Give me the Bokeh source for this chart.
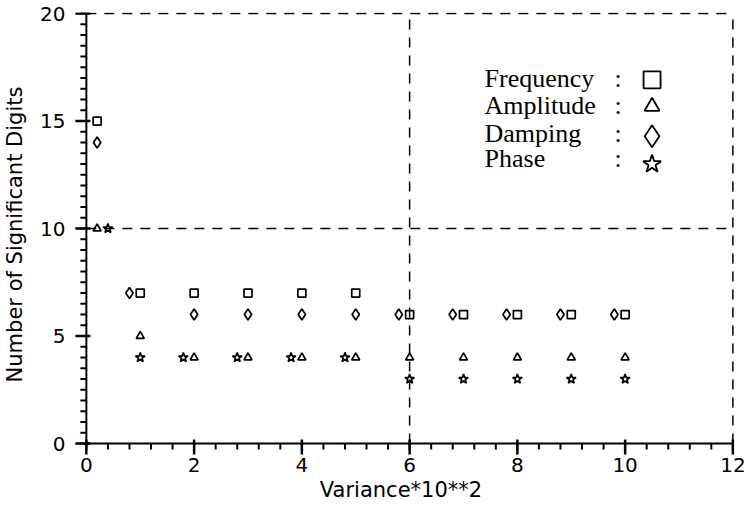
from bokeh.plotting import figure
from bokeh.models import FixedTicker
from bokeh.core.properties import value
from bokeh.embed import file_html
from bokeh.resources import INLINE

# Significant digits recovered for each parameter vs. noise variance (x 10^2)
freq_x = [0.2, 1, 2, 3, 4, 5, 6, 7, 8, 9, 10]
freq_y = [15, 7, 7, 7, 7, 7, 6, 6, 6, 6, 6]

amp_x = [0.2, 1, 2, 3, 4, 5, 6, 7, 8, 9, 10]
amp_y = [10, 5, 4, 4, 4, 4, 4, 4, 4, 4, 4]

damp_x = [0.2, 0.8, 2, 3, 4, 5, 5.8, 6.8, 7.8, 8.8, 9.8]
damp_y = [14, 7, 6, 6, 6, 6, 6, 6, 6, 6, 6]

phase_x = [0.4, 1, 1.8, 2.8, 3.8, 4.8, 6, 7, 8, 9, 10]
phase_y = [10, 4, 4, 4, 4, 4, 3, 3, 3, 3, 3]

legend_labels = ["Frequency", "Amplitude", "Damping", "Phase"]
markers = ["square", "triangle", "diamond", "star"]

x_major = [0, 2, 4, 6, 8, 10, 12]
y_major = [0, 5, 10, 15, 20]
x_minor = [round(i * 0.4, 2) for i in range(31)]
y_minor = [round(i * 0.5, 2) for i in range(41)]

X_MAX, Y_MAX = 12, 20

# the frame reaches a little past the axes so that the outward ticks
# can be drawn as ordinary segments
p = figure(width=746, height=510, x_range=(-0.35, 12.03), y_range=(-0.6, 20.05),
           output_backend="svg", toolbar_location=None,
           min_border_left=65, min_border_right=12,
           min_border_top=12, min_border_bottom=54)
p.outline_line_color = None
p.background_fill_color = None
p.border_fill_color = None
p.xgrid.visible = False
p.ygrid.visible = False

# Bokeh axes carry only the tick labels and titles
p.xaxis.ticker = FixedTicker(ticks=x_major)
p.yaxis.ticker = FixedTicker(ticks=y_major)
p.axis.axis_line_color = None
p.axis.major_tick_line_color = None
p.axis.minor_tick_line_color = None
p.axis.major_tick_out = 0
p.axis.major_tick_in = 0
p.axis.minor_tick_out = 0
p.axis.minor_tick_in = 0
p.axis.major_label_text_font = "DejaVu Sans"
p.axis.major_label_text_font_size = "20px"
p.axis.major_label_text_color = "black"
p.axis.axis_label_text_font = "DejaVu Sans"
p.axis.axis_label_text_font_size = "21px"
p.axis.axis_label_text_font_style = "normal"
p.axis.axis_label_text_color = "black"
p.xaxis.axis_label = "Variance*10**2"
p.yaxis.axis_label = "Number of Significant Digits"
p.xaxis.major_label_standoff = 1
p.yaxis.major_label_standoff = 2
p.xaxis.axis_label_standoff = 3
p.yaxis.axis_label_standoff = 10

# axis lines
p.segment(x0=[0, 0], y0=[0, 0], x1=[X_MAX, 0], y1=[0, Y_MAX],
          line_color="black", line_width=2)

# tick marks (lengths in data units: about 11 px out / 4 px in for major,
# 6 px out for minor), drawn as a single multi-line per family
xt_out, xt_in, xm_out = 0.51, 0.19, 0.28
yt_out, yt_in, ym_out = 0.204, 0.074, 0.111

p.multi_line(xs=[[t, t] for t in x_major],
             ys=[[-xt_out, xt_in] for _ in x_major],
             line_color="black", line_width=2.5)
p.multi_line(xs=[[t, t] for t in x_minor],
             ys=[[-xm_out, 0] for _ in x_minor],
             line_color="black", line_width=2)
p.multi_line(xs=[[-yt_out, yt_in] for _ in y_major],
             ys=[[t, t] for t in y_major],
             line_color="black", line_width=2.5)
p.multi_line(xs=[[-ym_out, 0] for _ in y_minor],
             ys=[[t, t] for t in y_minor],
             line_color="black", line_width=2)

# dashed reference lines, also closing the box at top and right
p.segment(x0=[6, X_MAX, 0, 0], y0=[0, 0, 10, Y_MAX],
          x1=[6, X_MAX, X_MAX, X_MAX], y1=[Y_MAX, Y_MAX, 10, Y_MAX],
          line_color="black", line_width=1.5, line_dash="10 8")

series = [(freq_x, freq_y, "square", 8),
          (amp_x, amp_y, "triangle", 8),
          (damp_x, damp_y, "diamond", 11),
          (phase_x, phase_y, "star", 10)]
for xs, ys, mk, sz in series:
    p.scatter(xs, ys, marker=mk, size=sz, fill_color=None,
              line_color="black", line_width=1.7)

# key in the upper right
text_x = 7.39
colon_x = 9.87
sym_x = 10.5
row_base = [16.3, 15.05, 13.77, 12.6]
row_mid = [16.92, 15.68, 14.3, 13.0]
sym_size = [17, 15, 22, 19]

p.text(x=[text_x] * 4, y=row_base, text=legend_labels,
       text_font=value("Liberation Serif"), text_font_size="26px",
       text_baseline="bottom", text_align="left", text_color="black")
p.text(x=[colon_x] * 4, y=row_base, text=[":"] * 4,
       text_font=value("Liberation Serif"), text_font_size="26px",
       text_baseline="bottom", text_align="center", text_color="black")
for mk, yy, sz in zip(markers, row_mid, sym_size):
    p.scatter([sym_x], [yy], marker=mk, size=sz, fill_color=None,
              line_color="black", line_width=1.8)

open("out.html", "w").write(file_html(p, INLINE))
